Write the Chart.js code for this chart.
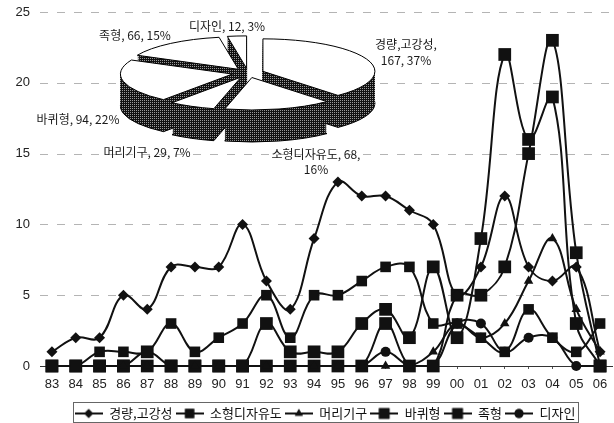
<!DOCTYPE html>
<html>
<head>
<meta charset="utf-8">
<script src="https://cdn.jsdelivr.net/npm/chart.js@4"></script>
<style>
  html, body { margin: 0; padding: 0; background: #fff; overflow: hidden; }
  #wrap { position: relative; width: 614px; height: 423px; overflow: hidden; }
  canvas { position: absolute; left: 0; top: 0; }
  #pieChart { pointer-events: none; }
</style>
</head>
<body>
<div id="wrap">
  <canvas id="lineChart" width="640" height="423"></canvas>
  <canvas id="pieChart" width="614" height="423"></canvas>
</div>
<script>
// data
const years = ['83','84','85','86','87','88','89','90','91','92','93','94','95','96','97','98','99','00','01','02','03','04','05','06'];
const yTicksMax = 25;

const lightStrong = [1,2,2,5,4,7,7,7,10,6,4,9,13,12,12,11,10,5,7,12,7,6,7,1];
const smallDof    = [0,0,1,1,1,3,1,2,3,5,2,5,5,6,7,7,3,3,2,1,4,2,1,3];
const headDevice  = [0,0,0,0,0,0,0,0,0,0,0,0,0,0,0,0,1,3,2,3,6,9,4,1];
const wheelType   = [0,0,0,0,1,0,0,0,0,3,1,1,1,3,4,2,7,2,9,22,16,19,3,0];
const footType    = [0,0,0,0,0,0,0,0,0,0,0,0,0,0,3,0,0,5,5,7,15,23,8,0];
const designType  = [0,0,0,0,0,0,0,0,0,0,0,0,0,0,1,0,0,3,3,1,2,2,0,0];

const pieNames  = ['경량,고강성','소형디자유도','머리기구','바퀴형','족형','디자인'];
const pieValues = [167,68,29,94,66,12];

const ink = '#111';

// 선 + 마커 범례 아이콘
function legendIcon(style, radius) {
    const c = document.createElement('canvas');
    c.width = 28; c.height = 14;
    const g = c.getContext('2d');
    g.strokeStyle = ink; g.lineWidth = 2;
    g.beginPath(); g.moveTo(0, 7); g.lineTo(28, 7); g.stroke();
    g.fillStyle = ink;
    Chart.helpers.drawPoint(g, { pointStyle: style, radius: radius, rotation: 0, borderWidth: 0 }, 14, 7);
    g.fill();
    return c;
}

function series(label, data, style, radius) {
    return {
        label: label,
        data: data,
        borderColor: ink,
        backgroundColor: ink,
        borderWidth: 2,
        pointStyle: style,
        pointRadius: radius,
        pointBackgroundColor: ink,
        pointBorderColor: ink,
        pointBorderWidth: 0,
        tension: 0.4,
        clip: false,
        fill: false
    };
}

// 범례 위치 조정 + 테두리, 점선 눈금선
const legendBox = {
    id: 'legendBox',
    afterLayout(chart) {
        const lg = chart.legend;
        lg.left = 36;
        lg.right = 614;
        lg.top += 7;
        lg.bottom += 7;
    },
    beforeDatasetsDraw(chart) {
        const ctx = chart.ctx;
        const y = chart.scales.y;
        ctx.save();
        ctx.strokeStyle = '#b4b4b4';
        ctx.lineWidth = 1;
        ctx.setLineDash([8, 9]);
        y.ticks.forEach(t => {
            if (t.value === 0) return;
            const py = Math.round(y.getPixelForValue(t.value)) + 0.5;
            ctx.beginPath();
            ctx.moveTo(chart.chartArea.left, py);
            ctx.lineTo(chart.chartArea.right, py);
            ctx.stroke();
        });
        ctx.restore();
    },
    afterDraw(chart) {
        const ctx = chart.ctx;
        ctx.save();
        ctx.strokeStyle = '#666';
        ctx.lineWidth = 1;
        ctx.strokeRect(73.5, 402.5, 505, 20);
        ctx.restore();
    }
};

new Chart(document.getElementById('lineChart'), {
    type: 'line',
    data: {
        labels: years,
        datasets: [
            series(pieNames[0], lightStrong, 'rectRot', 5.5),
            series(pieNames[1], smallDof, 'rect', 7.5),
            series(pieNames[2], headDevice, 'triangle', 5.5),
            series(pieNames[3], wheelType, 'rect', 9),
            series(pieNames[4], footType, 'rect', 9),
            series(pieNames[5], designType, 'circle', 5)
        ]
    },
    options: {
        responsive: false,
        animation: false,
        layout: { padding: { top: 12, right: 28, left: 0, bottom: 0 } },
        plugins: {
            tooltip: { enabled: false },
            legend: {
                position: 'bottom',
                labels: {
                    usePointStyle: true,
                    pointStyleWidth: 28,
                    padding: 3,
                    color: ink,
                    font: { family: '"Noto Sans CJK KR"', size: 13 },
                    generateLabels(chart) {
                        const items = Chart.defaults.plugins.legend.labels.generateLabels(chart);
                        const sizes = [4.5, 6.5, 4.5, 7.5, 7.5, 4.5];
                        const kinds = ['rectRot', 'rect', 'triangle', 'rect', 'rect', 'circle'];
                        items.forEach((it, i) => { it.pointStyle = legendIcon(kinds[i], sizes[i]); });
                        return items;
                    }
                }
            }
        },
        scales: {
            x: {
                offset: true,
                border: { color: '#333', width: 1 },
                grid: { drawOnChartArea: false, tickLength: 3, color: '#555' },
                ticks: {
                    color: '#222',
                    padding: 8,
                    autoSkip: false,
                    maxRotation: 0,
                    font: { family: '"Liberation Sans"', size: 13 }
                },
                afterFit(scale) {
                    scale.height = 31;
                    scale.paddingLeft = 0;
                    scale.paddingRight = 0;
                }
            },
            y: {
                min: 0,
                max: yTicksMax,
                grid: { display: false, drawTicks: false },
                border: { display: false },
                ticks: {
                    stepSize: 5,
                    padding: 10,
                    color: '#222',
                    font: { family: '"Liberation Sans"', size: 13 }
                },
                afterFit(scale) {
                    scale.width = 40;
                    scale.paddingTop = 0;
                    scale.paddingBottom = 0;
                }
            }
        }
    },
    plugins: [legendBox]
});

// 3D 파이: 납작하게 눌러서 그리고 옆면을 아래로 밀어 채운다
const pieCentre = { x: 248, y: 73 };
const squash = 0.29;
const depth = 32;
const explode = 16;
const captionLines = [
    ['경량,고강성,', '167, 37%'],
    ['소형디자유도, 68,', '16%'],
    ['머리기구, 29, 7%'],
    ['바퀴형, 94, 22%'],
    ['족형, 66, 15%'],
    ['디자인, 12, 3%']
];
const captionAt = [[406, 44], [316, 154], [147, 152], [78, 119], [135, 35], [227, 26]];

function halftone(ctx) {
    const c = document.createElement('canvas');
    c.width = 2; c.height = 2;
    const g = c.getContext('2d');
    g.fillStyle = '#111'; g.fillRect(0, 0, 2, 2);
    g.fillStyle = '#999'; g.fillRect(0, 0, 1, 1);
    return ctx.createPattern(c, 'repeat');
}

const pie3d = {
    id: 'pie3d',
    afterDatasetsDraw(chart) {
        const ctx = chart.ctx;
        const meta = chart.getDatasetMeta(0);
        const cx = (chart.chartArea.left + chart.chartArea.right) / 2;
        const cy = (chart.chartArea.top + chart.chartArea.bottom) / 2;
        const pattern = halftone(ctx);

        ctx.save();
        ctx.translate(pieCentre.x, pieCentre.y);
        ctx.scale(1, squash);
        ctx.translate(-cx, -cy);
        const base = ctx.getTransform();

        // 앞쪽 조각을 나중에
        const order = meta.data.slice().sort((a, b) => {
            const ma = (a.startAngle + a.endAngle) / 2, mb = (b.startAngle + b.endAngle) / 2;
            return Math.sin(ma) - Math.sin(mb);
        });
        order.forEach(arc => {
            const mid = (arc.startAngle + arc.endAngle) / 2;
            const ox = Math.cos(mid) * explode;
            const oy = Math.sin(mid) * explode;
            for (let d = depth; d >= 0; d -= 1) {
                ctx.setTransform(base);
                ctx.beginPath();
                ctx.moveTo(arc.x + ox, arc.y + oy + d / squash);
                ctx.arc(arc.x + ox, arc.y + oy + d / squash, arc.outerRadius, arc.startAngle, arc.endAngle);
                ctx.closePath();
                ctx.setTransform(1, 0, 0, 1, 0, 0);
                ctx.fillStyle = d === 0 ? '#fff' : pattern;
                ctx.fill();
                if (d === depth || d === 0) {
                    ctx.strokeStyle = '#000';
                    ctx.lineWidth = 1;
                    ctx.stroke();
                }
            }
        });
        ctx.restore();

        ctx.save();
        ctx.fillStyle = '#1a1a1a';
        ctx.font = '12px "Noto Sans CJK KR"';
        ctx.textAlign = 'center';
        ctx.textBaseline = 'middle';
        captionLines.forEach((lines, i) => {
            lines.forEach((line, j) => {
                ctx.fillText(line, captionAt[i][0], captionAt[i][1] + j * (i === 0 ? 16 : 15));
            });
        });
        ctx.restore();
    }
};

new Chart(document.getElementById('pieChart'), {
    type: 'pie',
    data: {
        labels: pieNames,
        datasets: [{
            data: pieValues,
            backgroundColor: 'rgba(0,0,0,0)',
            borderColor: 'rgba(0,0,0,0)',
            borderWidth: 0,
            radius: 112
        }]
    },
    options: {
        responsive: false,
        animation: false,
        plugins: { legend: { display: false }, tooltip: { enabled: false } }
    },
    plugins: [pie3d]
});
</script>
</body>
</html>
